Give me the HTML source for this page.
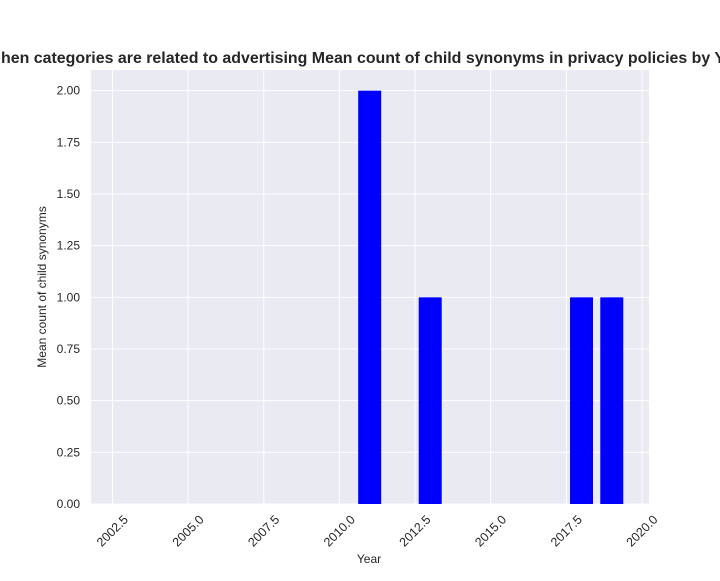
<!DOCTYPE html>
<html><head><meta charset="utf-8"><style>
body{margin:0;background:#fff;}
text{font-family:"Liberation Sans",Arial,sans-serif;fill:#262626;}
</style></head><body>
<svg id="chart" width="720" height="576" xmlns="http://www.w3.org/2000/svg">
<text x="1" y="63" font-size="16" font-weight="bold" textLength="724" lengthAdjust="spacingAndGlyphs">hen categories are related to advertising Mean count of child synonyms in privacy policies by Y</text>
<g id="plot"></g>
<text x="369" y="563" font-size="12" text-anchor="middle">Year</text>
<text transform="translate(46,287) rotate(-90)" font-size="12" text-anchor="middle">Mean count of child synonyms</text>
</svg>
<script>
const years = [2011, 2013, 2018, 2019];
const values = [2, 1, 1, 1];
const xTicks = [2002.5, 2005.0, 2007.5, 2010.0, 2012.5, 2015.0, 2017.5, 2020.0];
const yTicks = [0, 0.25, 0.5, 0.75, 1.0, 1.25, 1.5, 1.75, 2.0];

const L=91,R=649,T=70,B=504;
const xMin=2001.79,xMax=2020.23,yMax=2.1;
const xs=v=>L+(v-xMin)/(xMax-xMin)*(R-L);
const ys=v=>B-v/yMax*(B-T);
const NS="http://www.w3.org/2000/svg";
const g=document.getElementById('plot');
function mk(t,a){const e=document.createElementNS(NS,t);for(const k in a)e.setAttribute(k,a[k]);g.appendChild(e);return e;}
const bg=mk('rect',{x:L,y:T,width:R-L,height:B-T,fill:'#eaeaf2'});


yTicks.forEach(v=>{
  const l=mk('line',{x1:L,x2:R,y1:ys(v),y2:ys(v),stroke:'#fff','stroke-width':1});
  
  
  const t=mk('text',{x:L-11,y:ys(v)+4,'font-size':12,'text-anchor':'end'});
  t.textContent=v.toFixed(2);
  
  
});
xTicks.forEach(v=>{
  const x=xs(v);
  const l=mk('line',{x1:x,x2:x,y1:T,y2:B,stroke:'#fff','stroke-width':1});
  
  
  const cy=B+27;
  const t=mk('text',{x:x,y:cy+4,'font-size':12.5,'text-anchor':'middle',transform:`rotate(-45 ${x} ${cy})`});
  t.textContent=v.toFixed(1);
  
  
});
years.forEach((y,i)=>{
  const w=xs(y+0.38)-xs(y-0.38);
  const r=mk('rect',{x:xs(y-0.38),y:ys(values[i]),width:w,height:B-ys(values[i]),fill:'#0000ff'});
  
  
});
</script>
</body></html>
